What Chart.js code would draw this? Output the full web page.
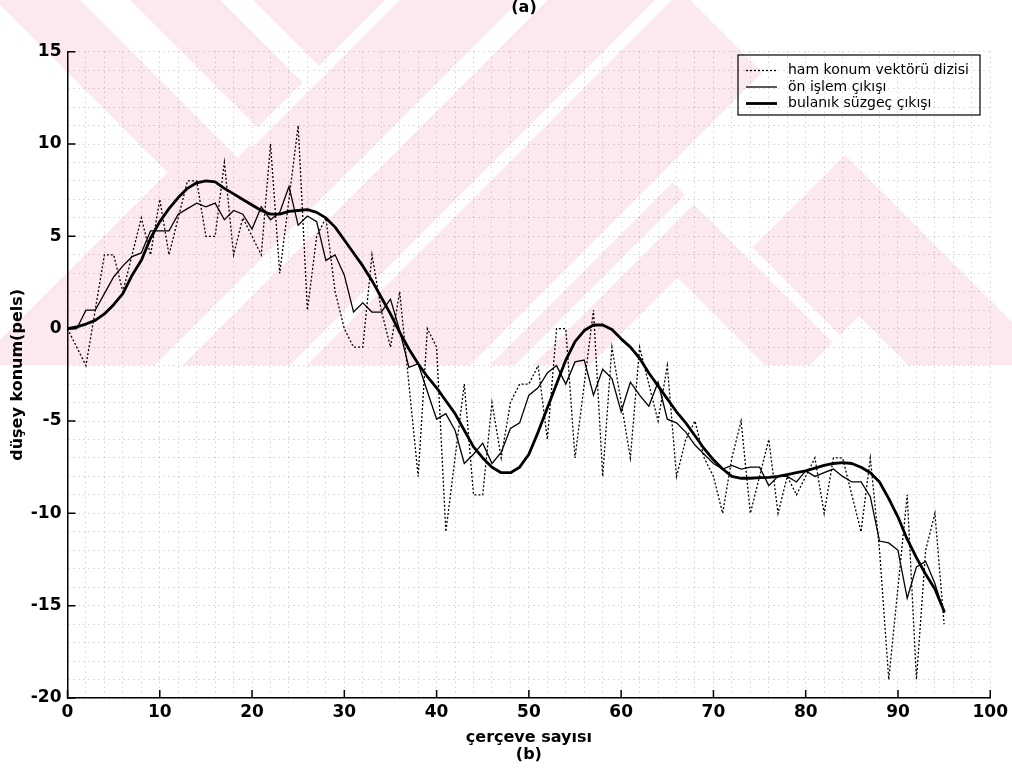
<!DOCTYPE html>
<html>
<head>
<meta charset="utf-8">
<script src="https://cdn.jsdelivr.net/npm/chart.js@4.4.0/dist/chart.umd.min.js"></script>
<style>
  html, body { margin: 0; padding: 0; background: #fff; }
  canvas { display: block; }
</style>
</head>
<body>
<canvas id="chart" width="1012" height="774"></canvas>
<script>
// frame numbers
const frames = [0, 1, 2, 3, 4, 5, 6, 7, 8, 9, 10, 11, 12, 13, 14, 15, 16, 17, 18, 19,
  20, 21, 22, 23, 24, 25, 26, 27, 28, 29, 30, 31, 32, 33, 34, 35, 36, 37, 38, 39,
  40, 41, 42, 43, 44, 45, 46, 47, 48, 49, 50, 51, 52, 53, 54, 55, 56, 57, 58, 59,
  60, 61, 62, 63, 64, 65, 66, 67, 68, 69, 70, 71, 72, 73, 74, 75, 76, 77, 78, 79,
  80, 81, 82, 83, 84, 85, 86, 87, 88, 89, 90, 91, 92, 93, 94, 95];

// raw vertical motion vector sequence
const rawVector = [0, -1, -2, 1, 4, 4, 2, 4, 6, 4, 7, 4, 6, 8, 8, 5, 5, 9, 4, 6,
  5, 4, 10, 3, 7, 11, 1, 5, 6, 2, 0, -1, -1, 4, 1, -1, 2, -3, -8, 0,
  -1, -11, -7, -3, -9, -9, -4, -7, -4, -3, -3, -2, -6, 0, 0, -7, -3, 1, -8, -1,
  -4, -7, -1, -3, -5, -2, -8, -6, -5, -7, -8, -10, -7, -5, -10, -8, -6, -10, -8, -9,
  -8, -7, -10, -7, -7, -9, -11, -7, -12, -19, -14, -9, -19, -12, -10, -16];

// preprocessing output
const preOutput = [0, 0, 1, 1, 1.9, 2.8, 3.4, 3.9, 4.1, 5.3, 5.3, 5.3, 6.2, 6.5, 6.8, 6.6, 6.8, 5.9, 6.4, 6.2,
  5.4, 6.6, 5.9, 6.3, 7.7, 5.6, 6.1, 5.8, 3.7, 4.0, 2.9, 0.9, 1.4, 0.9, 0.9, 1.6, -0.1, -2.1, -1.9, -3.4,
  -4.9, -4.6, -5.5, -7.3, -6.8, -6.2, -7.3, -6.7, -5.4, -5.1, -3.6, -3.2, -2.4, -2.0, -3.0, -1.8, -1.7, -3.6, -2.2, -2.7,
  -4.5, -2.9, -3.6, -4.2, -2.9, -4.9, -5.1, -5.6, -6.3, -6.8, -7.3, -7.6, -7.4, -7.6, -7.5, -7.5, -8.5, -8.0, -8.0, -8.3,
  -7.7, -8.0, -7.8, -7.6, -8.0, -8.3, -8.3, -9.1, -11.5, -11.6, -12.0, -14.6, -12.9, -12.6, -13.8, -15.4];

// fuzzy filter output
const fuzzyOutput = [0, 0.1, 0.25, 0.45, 0.8, 1.3, 1.9, 2.9, 3.7, 4.9, 5.8, 6.5, 7.1, 7.6, 7.9, 8.0, 7.95, 7.6, 7.3, 7.0,
  6.7, 6.4, 6.2, 6.2, 6.35, 6.4, 6.45, 6.3, 6.0, 5.5, 4.8, 4.1, 3.4, 2.6, 1.7, 0.8, -0.2, -1.1, -1.9, -2.6,
  -3.2, -3.9, -4.6, -5.5, -6.4, -7.0, -7.5, -7.8, -7.8, -7.5, -6.8, -5.6, -4.3, -3.0, -1.7, -0.7, -0.1, 0.2, 0.2, -0.05,
  -0.55, -1.0, -1.6, -2.4, -3.1, -3.8, -4.5, -5.1, -5.8, -6.5, -7.1, -7.6, -8.0, -8.1, -8.1, -8.07, -8.05, -8.0, -7.9, -7.8,
  -7.7, -7.55, -7.4, -7.3, -7.25, -7.3, -7.5, -7.8, -8.3, -9.2, -10.2, -11.4, -12.4, -13.3, -14.1, -15.3];

const seriesLabels = ['ham konum vektörü dizisi', 'ön işlem çıkışı', 'bulanık süzgeç çıkışı'];
const xTickLabels = [0, 10, 20, 30, 40, 50, 60, 70, 80, 90, 100];
const yTickLabels = [-20, -15, -10, -5, 0, 5, 10, 15];

const FONT = '"DejaVu Sans", sans-serif';

// pale background emblem, in diagonal coordinates u = x - y, v = x + y:
// a pink field cut by white stripes [u0, u1, v0, v1]
const EMBLEM_BOTTOM = 365;
const BIG = 5000;
const emblemField = [-BIG, 690, -BIG, BIG];
const emblemGaps = [
  [-BIG, -5, -BIG, 340],
  [80, 130, -BIG, 395],
  [220, 253, -BIG, 390],
  [105, 400, 385, 400],
  [-BIG, BIG, 520, 548],
  [-BIG, BIG, 655, 672],
  [-BIG, BIG, 835, 855],
  [-BIG, BIG, 880, 898],
  [490, BIG, 835, 1000],
  [-BIG, 400, 955, BIG],
  [490, 505, 900, BIG],
  [-BIG, 543, 1175, BIG]
];

const toPoints = values => frames.map((f, k) => ({ x: f, y: values[k] }));

const emblem = {
  id: 'emblem',
  beforeDraw(chart) {
    const ctx = chart.ctx;
    ctx.save();
    ctx.fillStyle = '#fff';
    ctx.fillRect(0, 0, chart.width, chart.height);
    ctx.beginPath();
    ctx.rect(0, 0, chart.width, EMBLEM_BOTTOM);
    ctx.clip();
    // (u, v) -> (x, y) = ((u + v) / 2, (v - u) / 2)
    ctx.setTransform(0.5, -0.5, 0.5, 0.5, 0, 0);
    const band = ([u0, u1, v0, v1]) => ctx.fillRect(u0, v0, u1 - u0, v1 - v0);
    ctx.fillStyle = '#fce9ed';
    band(emblemField);
    ctx.fillStyle = '#fff';
    emblemGaps.forEach(band);
    ctx.restore();
  }
};

// tick marks pointing into the plot, plus caption and legend box
const decorations = {
  id: 'decorations',
  afterDraw(chart) {
    const { ctx, chartArea: area, scales: { x, y } } = chart;
    ctx.save();
    ctx.strokeStyle = '#000';
    ctx.lineWidth = 1.5;
    ctx.beginPath();
    xTickLabels.forEach(v => {
      const px = x.getPixelForValue(v);
      ctx.moveTo(px, area.bottom);
      ctx.lineTo(px, area.bottom - 8);
    });
    yTickLabels.forEach(v => {
      const py = y.getPixelForValue(v);
      ctx.moveTo(area.left, py);
      ctx.lineTo(area.left + 8, py);
    });
    ctx.stroke();

    ctx.fillStyle = '#000';
    ctx.font = 'bold 16px ' + FONT;
    ctx.textAlign = 'center';
    ctx.textBaseline = 'alphabetic';
    ctx.fillText('(a)', 524, 12);

    // legend
    const box = { left: 738, top: 55, width: 242, height: 60 };
    ctx.lineWidth = 1.2;
    ctx.strokeRect(box.left, box.top, box.width, box.height);
    ctx.font = '14px ' + FONT;
    ctx.textAlign = 'left';
    ctx.textBaseline = 'middle';
    chart.data.datasets.forEach((ds, k) => {
      const yy = box.top + 15.5 + k * 16.5;
      ctx.lineWidth = ds.borderWidth;
      ctx.setLineDash(ds.borderDash || []);
      ctx.beginPath();
      ctx.moveTo(box.left + 8, yy);
      ctx.lineTo(box.left + 39, yy);
      ctx.stroke();
      ctx.setLineDash([]);
      ctx.fillText(ds.label, box.left + 50, yy);
    });
    ctx.restore();
  }
};

const gridStyle = {
  color: 'rgba(0,0,0,0.26)',
  lineWidth: 1,
  drawTicks: false
};

new Chart(document.getElementById('chart'), {
  type: 'line',
  data: {
    datasets: [
      {
        label: seriesLabels[0],
        data: toPoints(rawVector),
        borderColor: '#000',
        borderWidth: 1.3,
        borderDash: [2, 2],
        order: 2
      },
      {
        label: seriesLabels[1],
        data: toPoints(preOutput),
        borderColor: '#000',
        borderWidth: 1.3,
        order: 1
      },
      {
        label: seriesLabels[2],
        data: toPoints(fuzzyOutput),
        borderColor: '#000',
        borderWidth: 2.8,
        borderJoinStyle: 'round',
        borderCapStyle: 'round',
        order: 0
      }
    ]
  },
  options: {
    responsive: false,
    animation: false,
    devicePixelRatio: 1,
    layout: { padding: { left: 0, right: 21, top: 51.7, bottom: 0 } },
    elements: { point: { radius: 0 }, line: { tension: 0, fill: false } },
    plugins: { legend: { display: false }, tooltip: { enabled: false } },
    scales: {
      x: {
        type: 'linear',
        min: 0,
        max: 100,
        afterFit: scale => { scale.height = 76; },
        grid: gridStyle,
        border: { display: true, color: '#000', width: 1.5, dash: [1, 4] },
        ticks: {
          stepSize: 2,
          autoSkip: false,
          maxRotation: 0,
          padding: 4,
          color: '#000',
          font: { family: FONT, size: 17, weight: 'bold' },
          callback: v => (xTickLabels.includes(v) ? String(v) : '')
        },
        title: {
          display: true,
          text: ['çerçeve sayısı', '(b)'],
          color: '#000',
          font: { family: FONT, size: 16, weight: 'bold', lineHeight: 1.0625 },
          padding: { top: 0, bottom: 10.5 }
        }
      },
      y: {
        min: -20,
        max: 15,
        afterFit: scale => { scale.width = 67.5; },
        grid: gridStyle,
        border: { display: true, color: '#000', width: 1.5, dash: [1, 4] },
        ticks: {
          stepSize: 1,
          autoSkip: false,
          padding: 6,
          color: '#000',
          font: { family: FONT, size: 17, weight: 'bold' },
          callback: v => (yTickLabels.includes(v) ? String(v) : '')
        },
        title: {
          display: true,
          text: 'düşey konum(pels)',
          color: '#000',
          font: { family: FONT, size: 16, weight: 'bold' },
          padding: { top: 8, bottom: 0 }
        }
      }
    }
  },
  plugins: [emblem, decorations]
});
</script>
</body>
</html>
